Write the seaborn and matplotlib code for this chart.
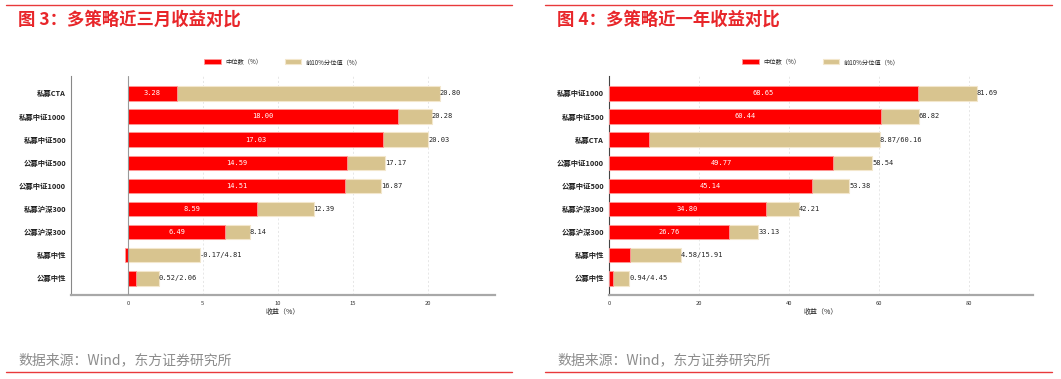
import numpy as np
import pandas as pd
import seaborn as sns
import matplotlib.pyplot as plt
from matplotlib.lines import Line2D

# dados dos dois gráficos (de cima para baixo)
cat_3m = ['私募CTA', '私募中证1000', '私募中证500', '公募中证500', '公募中证1000',
          '私募沪深300', '公募沪深300', '私募中性', '公募中性']
med_3m = [3.28, 18.00, 17.03, 14.59, 14.51, 8.59, 6.49, -0.17, 0.52]
top_3m = [20.80, 20.28, 20.03, 17.17, 16.87, 12.39, 8.14, 4.81, 2.06]
dentro_3m = [True, True, True, True, True, True, True, False, False]

cat_1a = ['私募中证1000', '私募中证500', '私募CTA', '公募中证1000', '公募中证500',
          '私募沪深300', '公募沪深300', '私募中性', '公募中性']
med_1a = [68.65, 60.44, 8.87, 49.77, 45.14, 34.80, 26.76, 4.58, 0.94]
top_1a = [81.69, 68.82, 60.16, 58.54, 53.38, 42.21, 33.13, 15.91, 4.45]
dentro_1a = [True, True, False, True, True, True, True, False, False]

titulos = ['图 3：多策略近三月收益对比', '图 4：多策略近一年收益对比']
fonte = '数据来源：Wind，东方证券研究所'

VERMELHO = '#FF0000'
BEGE = '#D8C48F'
FONTES = ['Noto Sans CJK SC', 'DejaVu Sans']
MONO = ['DejaVu Sans Mono']

sns.set_style('white')
plt.rcParams['font.family'] = FONTES
plt.rcParams['axes.unicode_minus'] = False

W, H = 1061, 379
fig = plt.figure(figsize=(W / 100, H / 100), dpi=100)


def fx(px):
    return px / W


def fy(py):
    return 1 - py / H


def painel(pos, cats, med, top, dentro, xlim, ticks, com_zero):
    ax = fig.add_axes(pos)
    df = pd.DataFrame({'cat': cats, 'med': med, 'top': top})
    sns.barplot(data=df, y='cat', x='top', order=cats, color=BEGE, orient='h',
                width=0.62, edgecolor='#F3E7CC', linewidth=0.8, saturation=1,
                ax=ax, label='前10%分位值（%）', zorder=2)
    sns.barplot(data=df, y='cat', x='med', order=cats, color=VERMELHO, orient='h',
                width=0.62, edgecolor='#FF9A9A', linewidth=0.6, saturation=1,
                ax=ax, label='中位数（%）', zorder=3)
    ax.set_xlim(*xlim)
    ax.set_ylim(8.72, -0.75)
    ax.set_xticks(ticks)
    ax.set_xticklabels([str(t) for t in ticks], fontsize=4.2, color='#333333')
    ax.tick_params(axis='x', length=2, width=0.5, pad=2, color='#999999')
    ax.tick_params(axis='y', length=2, width=0.5, pad=1.5, color='#555555',
                   labelsize=5.3, labelcolor='#222222')
    for lab in ax.get_yticklabels():
        lab.set_fontweight('bold')
    ax.set_ylabel('')
    ax.set_xlabel('收益（%）', fontsize=5, labelpad=2, color='#222222')
    for t in ticks:
        if t != 0:
            ax.axvline(t, color='#DDDDDD', lw=0.5, ls=(0, (3, 3)), zorder=1)
    if com_zero:
        ax.axvline(0, color='#999999', lw=0.8, zorder=4)
    for s in ['top', 'right']:
        ax.spines[s].set_visible(False)
    ax.spines['bottom'].set_color('#A8A8A8')
    ax.spines['bottom'].set_linewidth(1.6)
    ax.spines['left'].set_color('#888888' if com_zero else '#444444')
    ax.spines['left'].set_linewidth(0.8)

    for i, (m, t, d) in enumerate(zip(med, top, dentro)):
        if d:
            ax.text(m / 2, i, f'{m:.2f}', ha='center', va='center', family=MONO,
                    fontsize=5, color='white', zorder=5)
            ax.text(t, i, f'{t:.2f}', ha='left', va='center', family=MONO,
                    fontsize=5, color='#222222', zorder=5)
        else:
            ax.text(t, i, f'{m:.2f}/{t:.2f}', ha='left', va='center', family=MONO,
                    fontsize=5, color='#222222', zorder=5)

    h, l = ax.get_legend_handles_labels()
    ordem = [l.index('中位数（%）'), l.index('前10%分位值（%）')]
    ax.legend([h[k] for k in ordem], [l[k] for k in ordem], ncol=2, frameon=False,
              loc='lower center', bbox_to_anchor=(0.5, 1.02), fontsize=4.5,
              handlelength=2.6, handleheight=0.8, columnspacing=3.5)
    return ax


topo, base = 76, 295
painel([fx(71), fy(base), fx(495 - 71), (base - topo) / H], cat_3m, med_3m, top_3m,
       dentro_3m, (-3.8, 24.5), [0, 5, 10, 15, 20], True)
painel([fx(609), fy(base), fx(1033 - 609), (base - topo) / H], cat_1a, med_1a, top_1a,
       dentro_1a, (0, 94.2), [0, 20, 40, 60, 80], False)

# títulos, fonte e linhas vermelhas
for x0, x1, tit in [(6, 512, titulos[0]), (545, 1052, titulos[1])]:
    fig.add_artist(Line2D([fx(x0), fx(x1)], [fy(5), fy(5)], color='#E8393B', lw=1.0))
    fig.add_artist(Line2D([fx(x0), fx(x1)], [fy(372), fy(372)], color='#E8393B', lw=1.0))
    fig.text(fx(x0 + 12), fy(20), tit, color='#E8262A', fontsize=12.5,
             fontweight='bold', va='center', ha='left')
    fig.text(fx(x0 + 12), fy(360), fonte, color='#8C8C8C', fontsize=10,
             va='center', ha='left')

fig.savefig('out.png', dpi=100)
